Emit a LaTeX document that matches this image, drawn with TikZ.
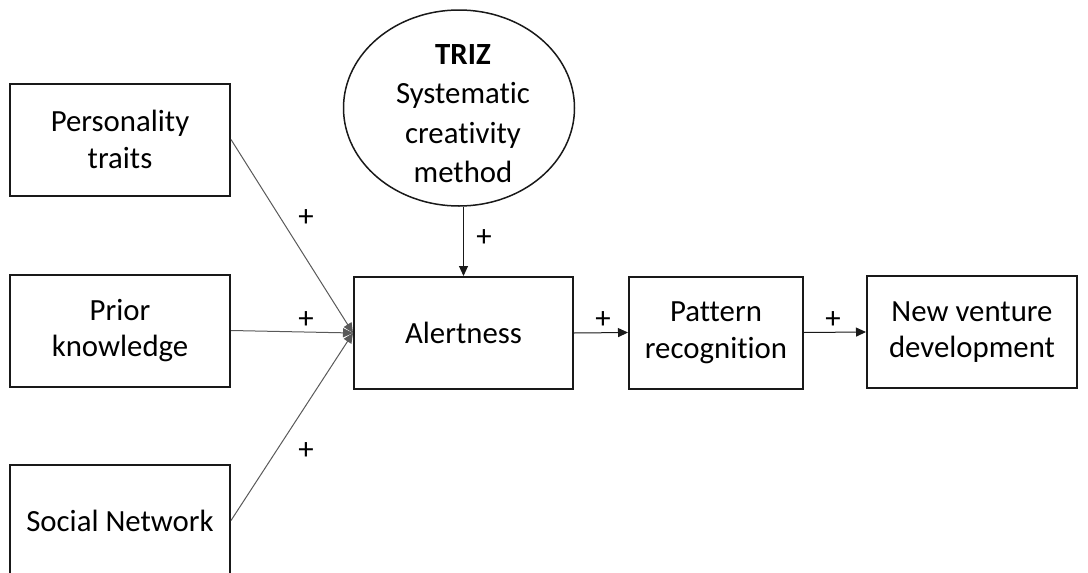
\documentclass[tikz,border=0pt]{standalone}
\usepackage{fontspec}
\setmainfont{Carlito}[Ligatures=NoCommon]
\usetikzlibrary{arrows.meta,shapes.geometric}
\begin{document}
\begin{tikzpicture}[x=1pt,y=-1pt,
  txt/.style={font=\fontsize{30.8}{36.6}\selectfont},
  box/.style={txt, draw=black!90, line width=2pt, rectangle, inner sep=0pt, align=center, minimum height=112pt},
  conn/.style={draw=black!65, line width=1pt, -{Triangle[length=10pt,width=9pt]}},
  plus/.style={txt, inner sep=0pt}]
\clip (0,0) rectangle (1088,573);
\node[box, minimum width=220pt] (pt) at (120,139.5) {Personality\\traits};
\node[box, minimum width=220pt] (pk) at (120,330.5) {Prior\\knowledge};
\node[box, minimum width=220pt] (sn) at (120,520.5) {Social Network};
\node[box, minimum width=219pt] (al) at (463.5,333) {Alertness};
\node[box, minimum width=174pt] (pr) at (716,332.5) {Pattern\\recognition};
\node[box, minimum width=210pt] (nv) at (972,332) {New venture\\development};
\node[ellipse, draw=black!90, line width=1.5pt, minimum width=231pt, minimum height=196pt, inner sep=0pt] (tz) at (459,108) {};
\node[inner sep=0pt, align=center, font=\fontsize{30.8}{39.5}\selectfont] (tzt) at (463,113.5) {\textbf{TRIZ}\\Systematic\\creativity\\method};
\draw[conn] (pt.east) -- (al.west);
\draw[conn] (pk.east) -- (al.west);
\draw[conn] (sn.east) -- (al.west);
\draw[conn, draw=black!90] (al.north |- tz.south) -- (al.north);
\draw[conn, draw=black!90] (al.east) -- (pr.west);
\draw[conn, draw=black!90] (pr.east) -- (nv.west);
\node[plus] (p1) at (306,218) {+};
\node[plus] (p2) at (306,320) {+};
\node[plus] (p3) at (306,451) {+};
\node[plus] (p4) at (484,238) {+};
\node[plus] (p5) at (603,320) {+};
\node[plus] (p6) at (833,320) {+};
\end{tikzpicture}
\end{document}
